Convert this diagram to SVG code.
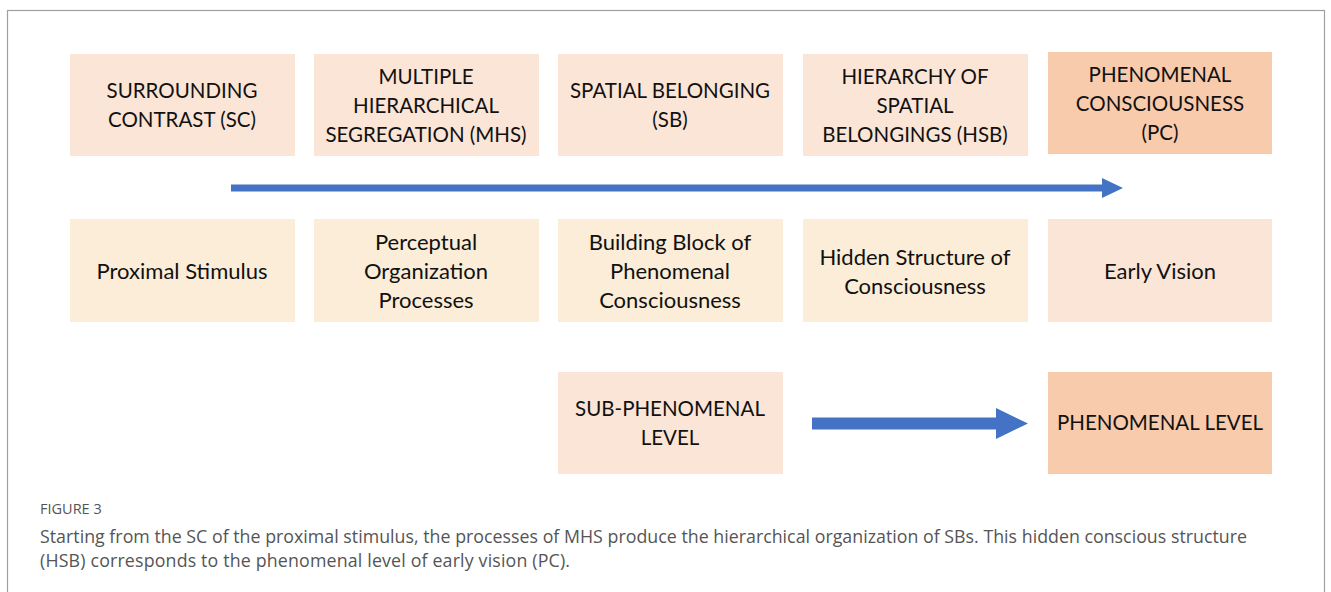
<svg xmlns="http://www.w3.org/2000/svg" width="1331" height="592" viewBox="0 0 1331 592">
  <style>
    .peach { fill: #FBE5D6; }
    .deep { fill: #F8CBAD; }
    .sand { fill: #FBEDD7; }
    .lbl { font-family: Lato, "Open Sans", sans-serif; font-size: 20.5px; fill: #111; text-anchor: middle; }
    .lc { font-size: 22px; }
    .cap { font-family: "Open Sans", Lato, sans-serif; fill: #555; }
  </style>
  <rect x="0" y="0" width="1331" height="592" fill="#fff"/>
  <rect x="7.5" y="10.5" width="1317" height="620" fill="none" stroke="#a0a0a0" stroke-width="1.2"/>

  <!-- top row: processing stages -->
  <g id="sc"><rect class="peach" x="70" y="54" width="225" height="102"/>
    <text class="lbl"><tspan x="182" y="98">SURROUNDING</tspan><tspan x="182" y="127">CONTRAST (SC)</tspan></text></g>
  <g id="mhs"><rect class="peach" x="314" y="54" width="225" height="102"/>
    <text class="lbl"><tspan x="426" y="84">MULTIPLE</tspan><tspan x="426" y="113">HIERARCHICAL</tspan><tspan x="426" y="142">SEGREGATION (MHS)</tspan></text></g>
  <g id="sb"><rect class="peach" x="558" y="54" width="225" height="102"/>
    <text class="lbl"><tspan x="670" y="98">SPATIAL BELONGING</tspan><tspan x="670" y="127">(SB)</tspan></text></g>
  <g id="hsb"><rect class="peach" x="803" y="54" width="225" height="102"/>
    <text class="lbl"><tspan x="915" y="84">HIERARCHY OF</tspan><tspan x="915" y="113">SPATIAL</tspan><tspan x="915" y="142">BELONGINGS (HSB)</tspan></text></g>
  <g id="pc"><rect class="deep" x="1048" y="52" width="224" height="102"/>
    <text class="lbl"><tspan x="1160" y="82">PHENOMENAL</tspan><tspan x="1160" y="111">CONSCIOUSNESS</tspan><tspan x="1160" y="140">(PC)</tspan></text></g>

  <!-- middle row: descriptions -->
  <g id="proximal"><rect class="sand" x="70" y="219" width="225" height="103"/>
    <text class="lbl lc"><tspan x="182" y="279">Proximal Stimulus</tspan></text></g>
  <g id="perceptual"><rect class="sand" x="314" y="219" width="225" height="103"/>
    <text class="lbl lc"><tspan x="426" y="250">Perceptual</tspan><tspan x="426" y="279">Organization</tspan><tspan x="426" y="308">Processes</tspan></text></g>
  <g id="building"><rect class="sand" x="558" y="219" width="225" height="103"/>
    <text class="lbl lc"><tspan x="670" y="250">Building Block of</tspan><tspan x="670" y="279">Phenomenal</tspan><tspan x="670" y="308">Consciousness</tspan></text></g>
  <g id="hidden"><rect class="sand" x="803" y="219" width="225" height="103"/>
    <text class="lbl lc"><tspan x="915" y="265">Hidden Structure of</tspan><tspan x="915" y="294">Consciousness</tspan></text></g>
  <g id="early"><rect class="peach" x="1048" y="219" width="224" height="103"/>
    <text class="lbl lc"><tspan x="1160" y="279">Early Vision</tspan></text></g>

  <!-- bottom row: levels -->
  <g id="sub"><rect class="peach" x="558" y="372" width="225" height="102"/>
    <text class="lbl"><tspan x="670" y="416">SUB-PHENOMENAL</tspan><tspan x="670" y="445">LEVEL</tspan></text></g>
  <g id="level"><rect class="deep" x="1048" y="372" width="224" height="102"/>
    <text class="lbl"><tspan x="1160" y="430">PHENOMENAL LEVEL</tspan></text></g>

  <!-- connectors: block arrows -->
  <g id="connectors" fill="#4472C4">
    <path d="M231,184.5 H1102 V178 L1123,188 L1102,198 V191.5 H231 Z"/>
    <path d="M812,417.5 H996 V408 L1028,423.5 L996,439 V429.5 H812 Z"/>
  </g>

  <!-- caption -->
  <text class="cap" x="40" y="514" font-size="14.5">FIGURE 3</text>
  <text class="cap" font-size="17.8"><tspan x="40" y="543" textLength="1207" lengthAdjust="spacing">Starting from the SC of the proximal stimulus, the processes of MHS produce the hierarchical organization of SBs. This hidden conscious structure</tspan><tspan x="40" y="567" textLength="530" lengthAdjust="spacing">(HSB) corresponds to the phenomenal level of early vision (PC).</tspan></text>
</svg>
